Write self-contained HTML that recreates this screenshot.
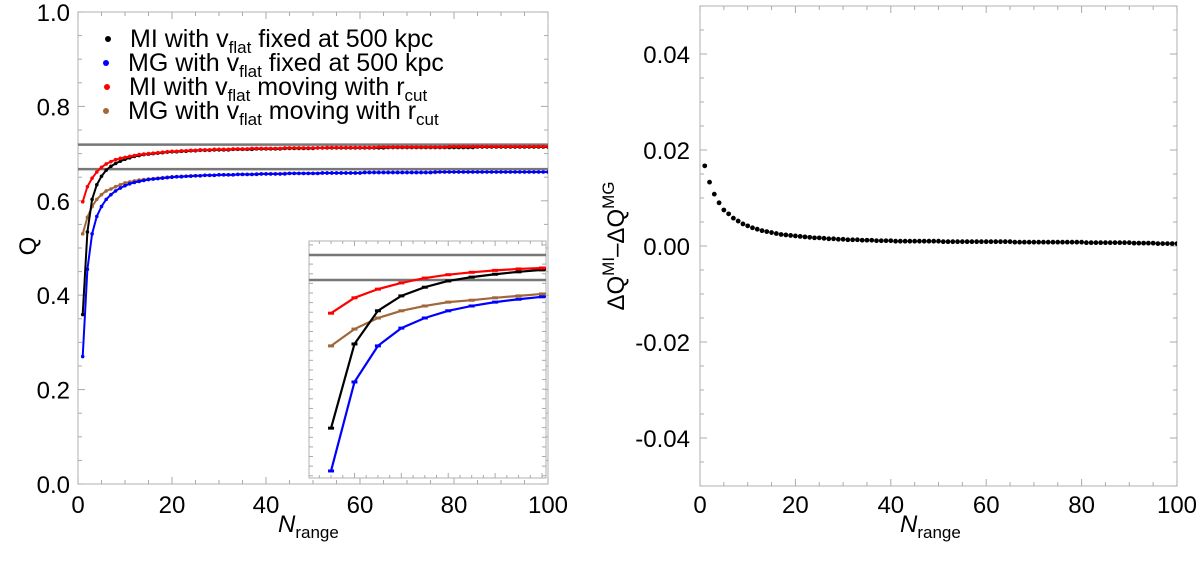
<!DOCTYPE html>
<html><head><meta charset="utf-8"><style>
body{margin:0;background:#fff}
svg text{font-family:"Liberation Sans",sans-serif;fill:#000}
</style></head><body>
<svg id="c" width="1200" height="567" viewBox="0 0 1200 567" xmlns="http://www.w3.org/2000/svg">
<defs>
<clipPath id="clipL"><rect x="78" y="12" width="470" height="472"/></clipPath>
<clipPath id="clipI"><rect x="309" y="241" width="237" height="237"/></clipPath>
<clipPath id="clipR"><rect x="700" y="6" width="477" height="480"/></clipPath>
</defs>
<g id="left"></g>
<g id="inset"></g>
<g id="right"></g>
<g font-size="25">
<circle cx="108" cy="39" r="3" fill="#000"/><text x="130" y="47">MI with v<tspan font-size="17" dy="6">flat</tspan><tspan dy="-6"> fixed at 500 kpc</tspan></text>
<circle cx="106" cy="63" r="3" fill="#0000ff"/><text x="128" y="71">MG with v<tspan font-size="17" dy="6">flat</tspan><tspan dy="-6"> fixed at 500 kpc</tspan></text>
<circle cx="107" cy="87" r="3" fill="#ff0000"/><text x="129" y="95">MI with v<tspan font-size="17" dy="6">flat</tspan><tspan dy="-6"> moving with r</tspan><tspan font-size="17" dy="6">cut</tspan></text>
<circle cx="106" cy="111" r="3" fill="#a0683a"/><text x="128" y="119">MG with v<tspan font-size="17" dy="6">flat</tspan><tspan dy="-6"> moving with r</tspan><tspan font-size="17" dy="6">cut</tspan></text>
</g>
<text font-size="24" transform="translate(36,246) rotate(-90)" text-anchor="middle">Q</text>
<text font-size="24" x="278" y="532"><tspan font-style="italic">N</tspan><tspan font-size="17" dy="6">range</tspan></text>
<text font-size="24" x="900" y="532"><tspan font-style="italic">N</tspan><tspan font-size="17" dy="6">range</tspan></text>
<text font-size="24" transform="translate(624,246) rotate(-90)" text-anchor="middle">ΔQ<tspan font-size="17" dy="-10">MI</tspan><tspan dy="10">–ΔQ</tspan><tspan font-size="17" dy="-10">MG</tspan></text>
</svg>
<script>
const N = Array.from({length:100},(_,i)=>i+1);
const miFixed = [.359,.534,.603,.634,.652,.665,.673,.679,.684,.688,.691,.694,.696,.698,.699,.700,.701,.702,.703,.704,.704,.705,.705,.706,.706,.707,.707,.707,.708,.708,.708,.708,.709,.709,.709,.709,.709,.710,.710,.710,.710,.710,.710,.711,.711,.711,.711,.711,.711,.711,.712,.712,.712,.712,.712,.712,.712,.712,.712,.712,.712,.712,.712,.712,.712,.713,.713,.713,.713,.713,.713,.713,.713,.713,.713,.713,.713,.713,.713,.713,.713,.713,.713,.713,.714,.714,.714,.714,.714,.714,.714,.714,.714,.714,.714,.714,.714,.714,.714,.714];
const mgFixed = [.270,.455,.530,.567,.588,.603,.613,.621,.627,.632,.636,.639,.641,.643,.645,.646,.647,.648,.649,.650,.651,.651,.652,.652,.653,.653,.654,.654,.654,.655,.655,.655,.655,.656,.656,.656,.656,.656,.657,.657,.657,.657,.657,.657,.658,.658,.658,.658,.658,.658,.658,.659,.659,.659,.659,.659,.659,.659,.659,.659,.660,.660,.660,.660,.660,.660,.660,.660,.660,.660,.660,.660,.660,.660,.660,.661,.661,.661,.661,.661,.661,.661,.661,.661,.661,.661,.661,.661,.661,.661,.661,.661,.661,.661,.661,.661,.661,.661,.661,.661];
const miMoving = [.598,.630,.648,.661,.671,.678,.683,.687,.690,.692,.694,.696,.698,.699,.700,.701,.702,.703,.704,.705,.705,.706,.706,.707,.707,.708,.708,.708,.709,.709,.709,.709,.710,.710,.710,.710,.711,.711,.711,.711,.711,.711,.711,.712,.712,.712,.712,.712,.712,.712,.712,.712,.713,.713,.713,.713,.713,.713,.713,.713,.713,.713,.713,.714,.714,.714,.714,.714,.714,.714,.714,.714,.714,.714,.714,.714,.714,.714,.715,.715,.715,.715,.715,.715,.715,.715,.715,.715,.715,.715,.715,.715,.715,.715,.715,.715,.715,.715,.715,.715];
const mgMoving = [.530,.565,.588,.603,.613,.621,.625,.630,.634,.638,.640,.642,.644,.645,.646,.647,.648,.649,.650,.651,.651,.652,.652,.653,.653,.653,.654,.654,.654,.655,.655,.655,.655,.656,.656,.656,.656,.657,.657,.657,.657,.657,.657,.658,.658,.658,.658,.658,.658,.658,.658,.659,.659,.659,.659,.659,.659,.659,.659,.659,.660,.660,.660,.660,.660,.660,.660,.660,.660,.660,.660,.660,.660,.660,.660,.660,.661,.661,.661,.661,.661,.661,.661,.661,.661,.661,.661,.661,.661,.661,.661,.661,.661,.661,.661,.661,.661,.661,.661,.661];
const limits = [0.719, 0.667];
const diffQ = [.0167,.0133,.0108,.0090,.0075,.0067,.0058,.0052,.0046,.0042,.0038,.0035,.0032,.0030,.0028,.0026,.0024,.0023,.0022,.0021,.0020,.0019,.0018,.0017,.0017,.0016,.0015,.0015,.0014,.0014,.0013,.0013,.0013,.0012,.0012,.0012,.0011,.0011,.0011,.0011,.0010,.0010,.0010,.0010,.0010,.0010,.0010,.0010,.0010,.0010,.0009,.0009,.0009,.0009,.0009,.0009,.0009,.0009,.0009,.0009,.0009,.0009,.0009,.0009,.0009,.0008,.0008,.0008,.0008,.0008,.0008,.0008,.0008,.0008,.0008,.0008,.0008,.0008,.0008,.0008,.0007,.0007,.0007,.0007,.0007,.0007,.0007,.0007,.0007,.0007,.0006,.0006,.0006,.0006,.0006,.0005,.0005,.0005,.0005,.0005];
const leftYTicks = [0,0.2,0.4,0.6,0.8,1.0];
const xTicks = [0,20,40,60,80,100];
const rightYTicks = [-0.04,-0.02,0,0.02,0.04];

const NS='http://www.w3.org/2000/svg';
function mk(p,tag,a){const e=document.createElementNS(NS,tag);for(const k in a)e.setAttribute(k,a[k]);p.appendChild(e);return e;}
const L=document.getElementById('left'),I=document.getElementById('inset'),R=document.getElementById('right');
const lx=v=>78+v*4.7, ly=v=>484-v*472;
const ix=v=>309+(v-0.06)*23.44, iy=v=>280-(v-0.667)*481;
const rx=v=>700+v*4.77, ry=v=>246-v*4800;

function frame(g,x0,y0,x1,y1,name){const r=mk(g,'rect',{x:x0,y:y0,width:x1-x0,height:y1-y0,fill:'#fff',stroke:'#b0b0b0','stroke-width':1});

}

frame(L,78,12,548,484,'left-plot-frame');
for(let v=0;v<=100;v+=5){const big=v%20===0;const x=lx(v);
mk(L,'line',{x1:x,x2:x,y1:484,y2:484-(big?7:4),stroke:'#aaa'});mk(L,'line',{x1:x,x2:x,y1:12,y2:12+(big?7:4),stroke:'#aaa'});}
for(let v=0;v<=1.0001;v+=0.05){const big=Math.round(v*100)%20===0;const y=ly(v);
mk(L,'line',{x1:78,x2:78+(big?7:4),y1:y,y2:y,stroke:'#aaa'});mk(L,'line',{x1:548,x2:548-(big?7:4),y1:y,y2:y,stroke:'#aaa'});}
leftYTicks.forEach(v=>{const t=mk(L,'text',{x:70,y:ly(v)+9,'text-anchor':'end','font-size':24});t.textContent=v.toFixed(1);

});
xTicks.forEach(v=>{const t=mk(L,'text',{x:lx(v),y:513,'text-anchor':'middle','font-size':24});t.textContent=v;

});
const gl=mk(L,'g',{'clip-path':'url(#clipL)'});
limits.forEach(v=>{const l=mk(gl,'line',{x1:78,x2:548,y1:ly(v),y2:ly(v),stroke:'#777','stroke-width':2.5});

});
const series=[[mgMoving,'#a0683a','mg-moving'],[mgFixed,'#0000ff','mg-fixed'],[miFixed,'#000','mi-fixed'],[miMoving,'#ff0000','mi-moving']];
series.forEach(([d,c,n])=>{const p=mk(gl,'polyline',{points:N.map((k,i)=>lx(k)+','+ly(d[i])).join(' '),fill:'none',stroke:c,'stroke-width':2});


N.forEach((k,i)=>{const c2=mk(gl,'circle',{cx:lx(k),cy:ly(d[i]),r:1.8,fill:c});

});});

frame(I,309,241,546,478,'inset-frame');
for(let v=0.5;v<=10;v+=0.5){const x=ix(v);const big=v%2===0;
mk(I,'line',{x1:x,x2:x,y1:478,y2:478-(big?5:3),stroke:'#aaa'});mk(I,'line',{x1:x,x2:x,y1:241,y2:241+(big?5:3),stroke:'#aaa'});}
for(let v=0.26;v<=0.75;v+=0.02){const y=iy(v);
mk(I,'line',{x1:309,x2:313,y1:y,y2:y,stroke:'#aaa'});mk(I,'line',{x1:546,x2:542,y1:y,y2:y,stroke:'#aaa'});}
const gi=mk(I,'g',{'clip-path':'url(#clipI)'});
limits.forEach(v=>{const l=mk(gi,'line',{x1:309,x2:546,y1:iy(v),y2:iy(v),stroke:'#777','stroke-width':2.5});

});
series.forEach(([d,c,n])=>{const p=mk(gi,'polyline',{points:N.slice(0,12).map((k,i)=>ix(k)+','+iy(d[i])).join(' '),fill:'none',stroke:c,'stroke-width':2.2});


N.slice(0,12).forEach((k,i)=>{const r=mk(gi,'rect',{x:ix(k)-3,y:iy(d[i])-1.5,width:6,height:3,fill:c});

});});

frame(R,700,6,1177,486,'right-plot-frame');
for(let v=0;v<=100;v+=5){const big=v%20===0;const x=rx(v);
mk(R,'line',{x1:x,x2:x,y1:486,y2:486-(big?7:4),stroke:'#aaa'});mk(R,'line',{x1:x,x2:x,y1:6,y2:6+(big?7:4),stroke:'#aaa'});}
for(let k=-10;k<=10;k++){const v=k*0.005;const big=k%4===0;const y=ry(v);
mk(R,'line',{x1:700,x2:700+(big?7:4),y1:y,y2:y,stroke:'#aaa'});mk(R,'line',{x1:1177,x2:1177-(big?7:4),y1:y,y2:y,stroke:'#aaa'});}
rightYTicks.forEach(v=>{const t=mk(R,'text',{x:690,y:ry(v)+9,'text-anchor':'end','font-size':24});t.textContent=(v<0?'-':'')+Math.abs(v).toFixed(2);

});
xTicks.forEach(v=>{const t=mk(R,'text',{x:rx(v),y:513,'text-anchor':'middle','font-size':24});t.textContent=v;

});
const gr=mk(R,'g',{'clip-path':'url(#clipR)'});
N.forEach((k,i)=>{const c=mk(gr,'circle',{cx:rx(k),cy:ry(diffQ[i]),r:2.4,fill:'#000'});

});
</script>
</body></html>
